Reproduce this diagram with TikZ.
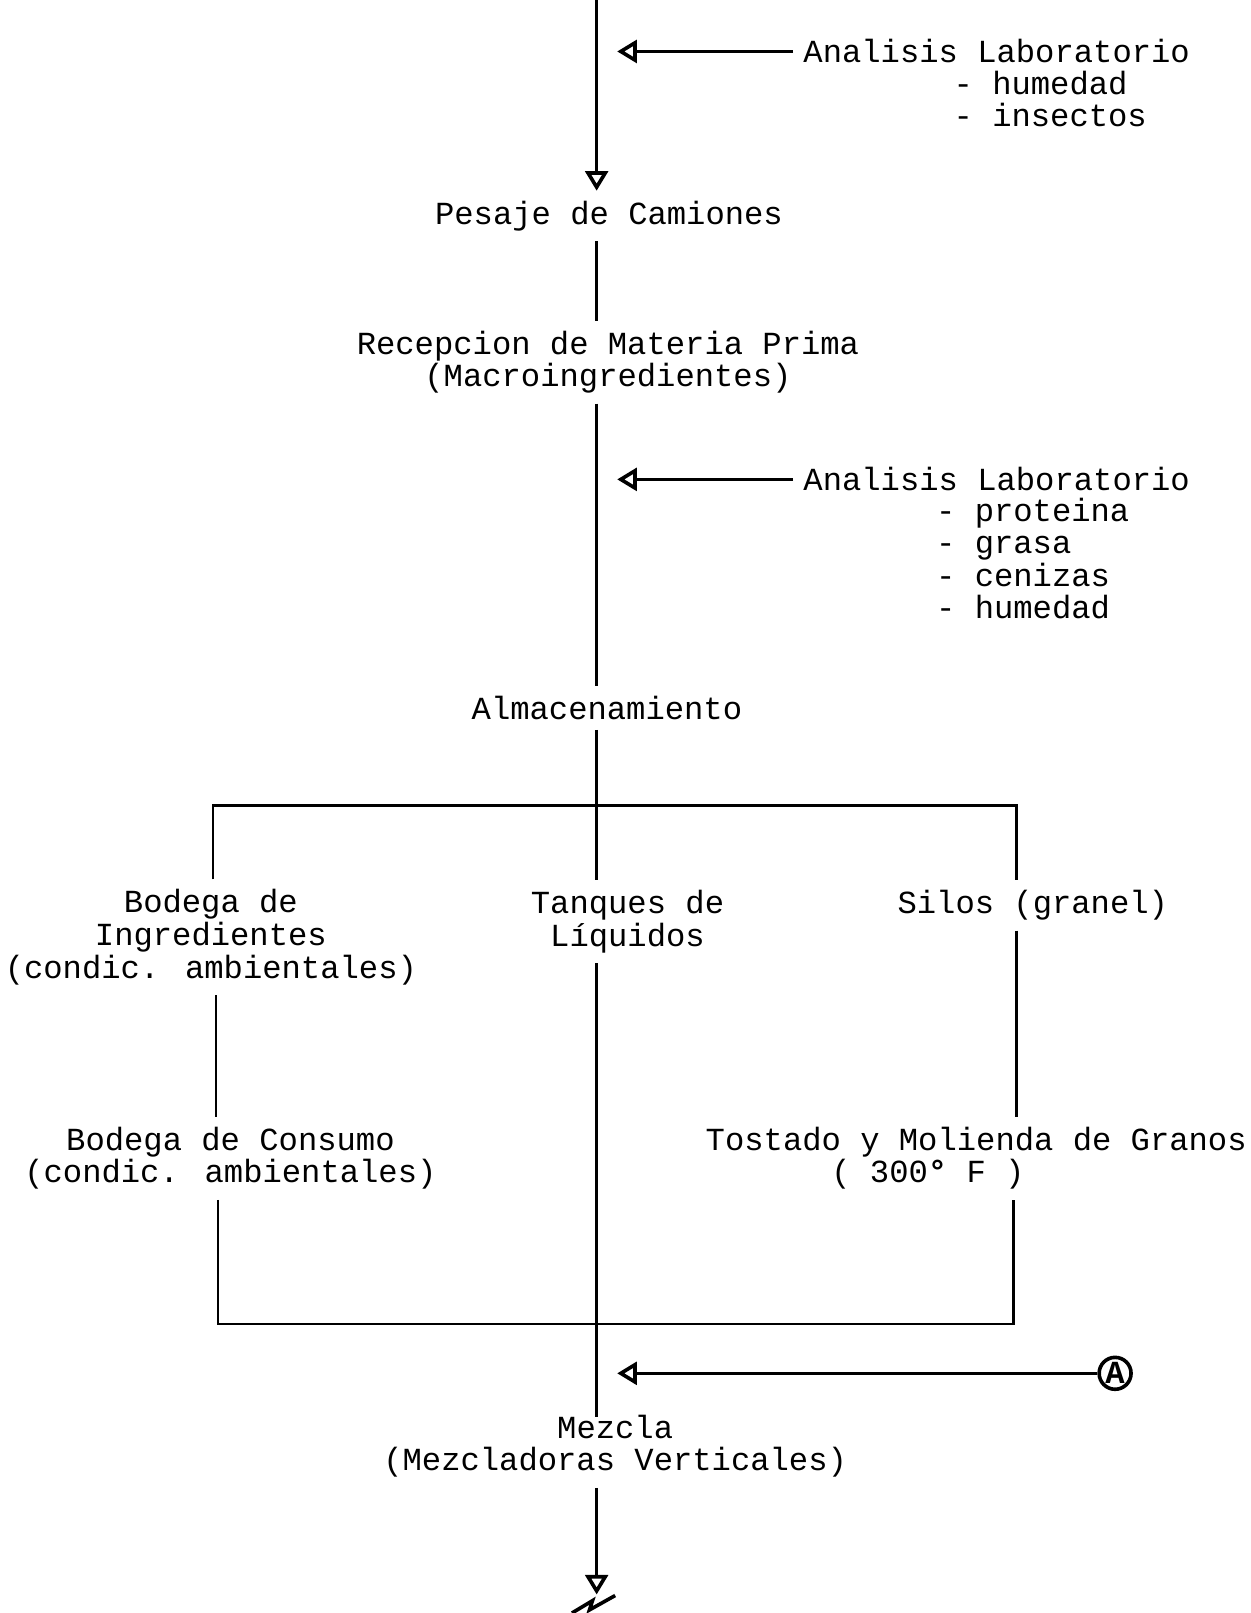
\documentclass[tikz,border=0pt]{standalone}
\usepackage{fontspec}
\setmainfont{Liberation Mono}
\usetikzlibrary{arrows.meta, positioning}

\begin{document}
\begin{tikzpicture}[
    x=0.01cm, y=-0.01cm,
    every node/.style={
    align=center,
    inner sep=2.5pt,
    font=\fontsize{8.9}{9}\selectfont},
    flecha/.style={-{Triangle[open, length=1.9mm, width=2.2mm, line width=1pt]}},
    line width=0.7pt]
    \useasboundingbox (0,0) rectangle (1216,1568);
    \coordinate (top) at (580,0);
    \coordinate (tip) at (600,0);
    \node (pesaje) at (592,210) {Pesaje de Camiones};
    \node (recep) at (591,352) {Recepcion de Materia Prima\\(Macroingredientes)};
    \node (alm) at (590,688) {Almacenamiento};
    \node (bodI) at (205,911) {Bodega de\\Ingredientes\\(condic. ambientales)};
    \node (tanq) at (610,896) {Tanques de\\Líquidos};
    \node (silos) at (1004,880) {Silos (granel)};
    \node (bodC) at (224,1126) {Bodega de Consumo\\(condic. ambientales)};
    \node (tost) at (949,1126) {Tostado y Molienda de Granos\\( 300\textbf{°} F )\hspace*{3em}};
    \node (mezcla) at (598,1406) {Mezcla\\(Mezcladoras Verticales)};
    \begin{scope}[every node/.append style={anchor=west, align=left}]
        \node (lab1) at (771,50) {Analisis Laboratorio};
        \node (lab1l) at (917,96) {- humedad\\- insectos};
        \node (lab2) at (771,466) {Analisis Laboratorio};
        \node (lab2l) at (900,543) {- proteina\\- grasa\\- cenizas\\- humedad};
    \end{scope}
    \node[draw, circle, inner sep=0pt, minimum size=3.1mm, line width=1pt] (A) at (1084,1335) {\textbf{A}};
    % esquinas de los corchetes
    \coordinate (tl) at (207,783);
    \coordinate (tr) at (988,783);
    \coordinate (bl) at (212,1287);
    \coordinate (br) at (985,1287);
    \coordinate (fin) at (580,1550);
    % linea principal
    \draw[flecha] (top) -- (pesaje.north -| top);
    \draw (pesaje.south -| top) -- (recep.north -| top);
    \draw (recep.south -| top) -- (alm.north -| top);
    \draw (alm.south -| top) -- (tanq.north -| top);
    \draw (tanq.south -| top) -- ([yshift=-1.2mm]mezcla.north -| top);
    \draw[flecha] (mezcla.south -| top) -- (fin);
    \draw[line width=1pt] (556,1568) -- (576,1556) -- (573,1565) -- (598,1551);
    % analisis
    \draw[flecha] (lab1.west) -- (lab1.west -| tip);
    \draw[flecha] (lab2.west) -- (lab2.west -| tip);
    \draw[flecha] (A.west) -- (A.west -| tip);
    % corchetes
    \draw (tl |- bodI.north) -- (tl) -- (tr) -- (tr |- silos.north);
    \draw (bodI.south -| 210,0) -- (bodC.north -| 210,0);
    \draw (silos.south -| tr) -- (tost.north -| tr);
    \draw (bl |- bodC.south) -- (bl) -- (br) -- (br |- tost.south);
\end{tikzpicture}
\end{document}
